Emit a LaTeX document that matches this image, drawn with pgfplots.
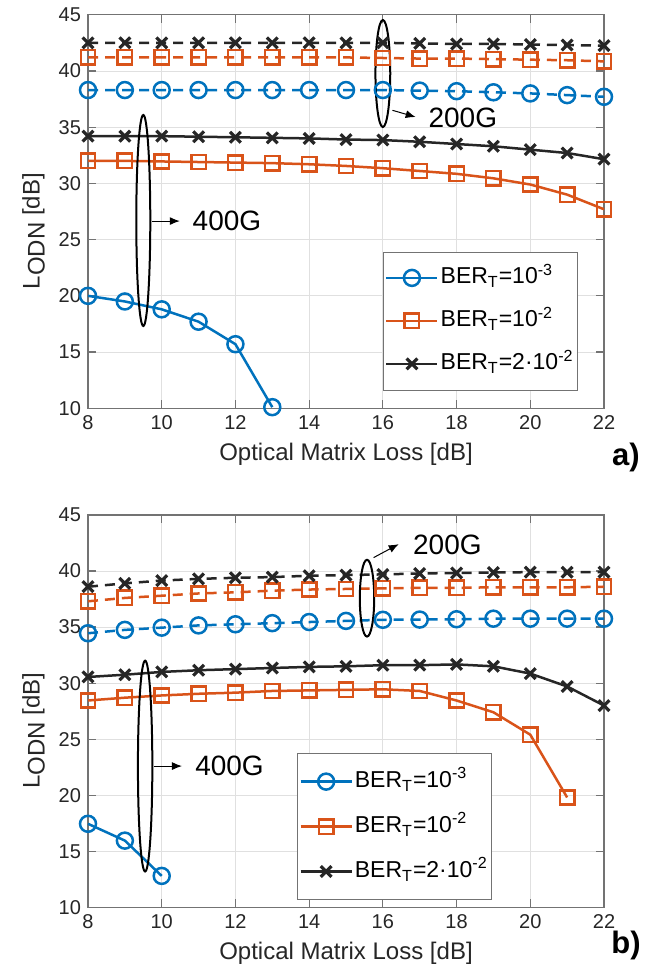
\documentclass[border=0pt]{standalone}
\usepackage{fontspec}
\setmainfont{Liberation Sans}
\usepackage{pgfplots}
\pgfplotsset{compat=1.18}
\usetikzlibrary{arrows.meta}

\definecolor{mblue}{rgb}{0,0.447,0.741}
\definecolor{morange}{rgb}{0.85,0.325,0.098}
\definecolor{mblack}{rgb}{0.15,0.15,0.15}
\definecolor{axgray}{rgb}{0.45,0.45,0.45}

\pgfplotsset{
  myax/.style={
    scale only axis, width=258pt,
    xmin=8, xmax=22, ymin=10, ymax=45,
    xtick={8,10,...,22}, ytick={10,15,...,45},
    grid=major, grid style={black!12, line width=0.4pt},
    axis line style={axgray, line width=0.6pt},
    tick style={axgray, line width=0.6pt}, major tick length=4pt,
    tick align=inside,
    ticklabel style={font=\fontsize{10}{12}\selectfont, text=black!85},
    /pgf/number format/assume math mode=true,
    xlabel={Optical Matrix Loss [dB]},
    ylabel={L\raisebox{-0.4ex}{ODN} [dB]},
    label style={font=\fontsize{12}{14}\selectfont, text=black!85},
    ylabel style={at={(ticklabel cs:0.45)}},
    clip=false,
    legend cell align=left,
    legend style={font=\fontsize{11.5}{13}\selectfont, draw=axgray,
      inner xsep=1pt, inner ysep=6pt, row sep=7.5pt,
      nodes={text height=9pt, text depth=3pt, inner sep=1pt}},
  },
  sb/.style={mblue, line width=1.25pt, mark=o, mark size=4pt, mark options={solid, line width=1.25pt}},
  so/.style={morange, line width=1.25pt, mark=square, mark size=3.6pt, mark options={solid, line width=1.25pt}},
  sk/.style={mblack, line width=1.25pt, mark=x, mark size=3.8pt, mark options={solid, line width=1.6pt}},
  dsh/.style={dash pattern=on 5pt off 3.5pt},
  lgb/.style={legend image code/.code={\draw[mblue, line width=1.25pt, mark=o, mark size=4pt, mark options={solid, line width=1.25pt}, mark repeat=2, mark phase=2] plot coordinates {(0pt,0pt) (12.75pt,0pt) (25.5pt,0pt)};}},
  lgo/.style={legend image code/.code={\draw[morange, line width=1.25pt, mark=square, mark size=3.6pt, mark options={solid, line width=1.25pt}, mark repeat=2, mark phase=2] plot coordinates {(0pt,0pt) (12.75pt,0pt) (25.5pt,0pt)};}},
  lgk/.style={legend image code/.code={\draw[mblack, line width=1.25pt, mark=x, mark size=3.8pt, mark options={solid, line width=1.6pt}, mark repeat=2, mark phase=2] plot coordinates {(0pt,0pt) (12.75pt,0pt) (25.5pt,0pt)};}},
}

\begin{document}
\begin{tikzpicture}
\path[use as bounding box] (0,0) rectangle (331pt,490pt);

% ---------------- (a) ----------------
\begin{axis}[myax, height=196.8pt, at={(44pt,285.85pt)}, anchor=south west,
  legend style={at={(0.9496,0.0457)}, anchor=south east}]
\addplot[sb, lgb] coordinates {(8,20.0)(9,19.5)(10,18.8)(11,17.7)(12,15.7)(13,10.1)};
\addlegendentry{BER\textsubscript{T}=10\textsuperscript{-3}}
\addplot[so, lgo] coordinates {(8,32.0)(9,32.0)(10,31.95)(11,31.9)(12,31.85)(13,31.8)(14,31.7)(15,31.55)(16,31.35)(17,31.1)(18,30.85)(19,30.45)(20,29.9)(21,29.0)(22,27.7)};
\addlegendentry{BER\textsubscript{T}=10\textsuperscript{-2}}
\addplot[sk, lgk] coordinates {(8,34.2)(9,34.2)(10,34.2)(11,34.15)(12,34.1)(13,34.05)(14,34.0)(15,33.9)(16,33.85)(17,33.7)(18,33.5)(19,33.3)(20,33.0)(21,32.7)(22,32.15)};
\addlegendentry{BER\textsubscript{T}=2·10\textsuperscript{-2}}
\addplot[sb, dsh, forget plot] coordinates {(8,38.3)(9,38.3)(10,38.3)(11,38.3)(12,38.3)(13,38.3)(14,38.3)(15,38.3)(16,38.3)(17,38.25)(18,38.2)(19,38.1)(20,38.0)(21,37.85)(22,37.7)};
\addplot[so, dsh, forget plot] coordinates {(8,41.2)(9,41.2)(10,41.2)(11,41.2)(12,41.2)(13,41.2)(14,41.2)(15,41.2)(16,41.15)(17,41.1)(18,41.1)(19,41.05)(20,41.0)(21,40.95)(22,40.85)};
\addplot[sk, dsh, forget plot] coordinates {(8,42.5)(9,42.5)(10,42.5)(11,42.5)(12,42.5)(13,42.5)(14,42.5)(15,42.5)(16,42.5)(17,42.45)(18,42.4)(19,42.4)(20,42.35)(21,42.3)(22,42.25)};
\draw[black, line width=1pt] (axis cs:16,39.77) ellipse [x radius=3.7pt, y radius=26.75pt];
\draw[black, line width=0.5pt, -{Latex[length=5pt,width=4pt]}] (axis cs:16.26,36.5) -- (axis cs:16.89,35.9);
\node[anchor=west, inner sep=0pt, font=\fontsize{14}{16}\selectfont] at (axis cs:17.23,35.8) {200G};
\draw[black, line width=1pt] (axis cs:9.5,26.7) ellipse [x radius=3.5pt, y radius=52.75pt];
\draw[black, line width=0.5pt, -{Latex[length=5pt,width=4pt]}] (axis cs:9.73,26.65) -- (axis cs:10.49,26.65);
\node[anchor=west, inner sep=0pt, font=\fontsize{14}{16}\selectfont] at (axis cs:10.83,26.65) {400G};
\end{axis}

% ---------------- (b) ----------------
\begin{axis}[myax, height=196.15pt, at={(44pt,36.35pt)}, anchor=south west,
  legend style={at={(0.405,0.0186)}, anchor=south west, row sep=8.5pt, inner ysep=7pt}]
\addplot[sb, lgb] coordinates {(8,17.45)(9,15.95)(10,12.8)};
\addlegendentry{BER\textsubscript{T}=10\textsuperscript{-3}}
\addplot[so, lgo] coordinates {(8,28.45)(9,28.7)(10,28.9)(11,29.05)(12,29.15)(13,29.3)(14,29.35)(15,29.4)(16,29.45)(17,29.3)(18,28.45)(19,27.4)(20,25.4)(21,19.8)};
\addlegendentry{BER\textsubscript{T}=10\textsuperscript{-2}}
\addplot[sk, lgk] coordinates {(8,30.55)(9,30.75)(10,31.0)(11,31.15)(12,31.25)(13,31.35)(14,31.45)(15,31.5)(16,31.6)(17,31.6)(18,31.67)(19,31.5)(20,30.85)(21,29.7)(22,28.0)};
\addlegendentry{BER\textsubscript{T}=2·10\textsuperscript{-2}}
\addplot[sb, dsh, forget plot] coordinates {(8,34.45)(9,34.75)(10,34.95)(11,35.15)(12,35.25)(13,35.35)(14,35.45)(15,35.55)(16,35.65)(17,35.67)(18,35.7)(19,35.75)(20,35.75)(21,35.75)(22,35.75)};
\addplot[so, dsh, forget plot] coordinates {(8,37.3)(9,37.6)(10,37.8)(11,38.0)(12,38.1)(13,38.25)(14,38.35)(15,38.4)(16,38.45)(17,38.5)(18,38.5)(19,38.55)(20,38.55)(21,38.55)(22,38.6)};
\addplot[sk, dsh, forget plot] coordinates {(8,38.6)(9,38.9)(10,39.15)(11,39.3)(12,39.4)(13,39.46)(14,39.58)(15,39.64)(16,39.7)(17,39.78)(18,39.83)(19,39.87)(20,39.9)(21,39.9)(22,39.9)};
\draw[black, line width=1pt] (axis cs:15.57,37.58) ellipse [x radius=3.6pt, y radius=19.2pt];
\draw[black, line width=0.5pt, -{Latex[length=5pt,width=4pt]}] (axis cs:15.75,41.2) -- (axis cs:16.43,42.4);
\node[anchor=west, inner sep=0pt, font=\fontsize{14}{16}\selectfont] at (axis cs:16.81,42.35) {200G};
\draw[black, line width=1pt] (axis cs:9.55,22.6) ellipse [x radius=3.6pt, y radius=52.7pt];
\draw[black, line width=0.5pt, -{Latex[length=5pt,width=4pt]}] (axis cs:9.8,22.6) -- (axis cs:10.55,22.6);
\node[anchor=west, inner sep=0pt, font=\fontsize{14}{16}\selectfont] at (axis cs:10.9,22.6) {400G};
\end{axis}

\node[font=\bfseries\fontsize{15.5}{18}\selectfont] at (313pt,261.5pt) {a)};
\node[font=\bfseries\fontsize{15.5}{18}\selectfont] at (313pt,17.5pt) {b)};
\end{tikzpicture}
\end{document}
